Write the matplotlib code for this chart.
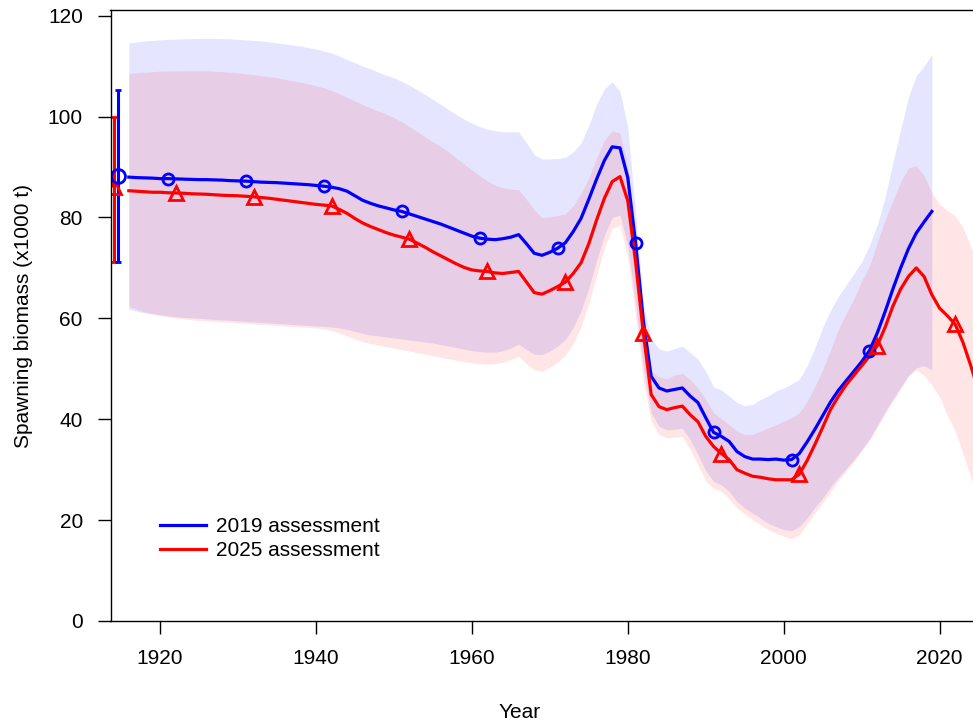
import numpy as np
import matplotlib
matplotlib.use("Agg")
import matplotlib.pyplot as plt

plt.rcParams['font.family'] = ['Liberation Sans', 'DejaVu Sans']

# ---------------- data ----------------
years_2019 = list(range(1916, 2020))
years_2025 = list(range(1916, 2026))

ssb_2019 = [88.0, 87.9, 87.85, 87.8, 87.7, 87.7, 87.65, 87.6, 87.55, 87.5,
            87.5, 87.45, 87.4, 87.3, 87.25, 87.2, 87.1, 87.0, 86.95, 86.9,
            86.8, 86.7, 86.6, 86.5, 86.35, 86.2, 86.0, 85.7, 85.2, 84.3,
            83.4, 82.8, 82.3, 81.9, 81.5, 81.2, 80.7, 80.2, 79.7, 79.2,
            78.7, 78.1, 77.5, 76.9, 76.3, 75.9, 75.7, 75.6, 75.8, 76.1,
            76.6, 74.8, 72.9, 72.5, 73.1, 73.9, 75.0, 77.2, 79.8, 83.6,
            87.6, 91.3, 94.0, 93.8, 87.9, 75.0, 59.5, 48.5, 46.2, 45.6,
            45.9, 46.2, 44.6, 43.3, 40.3, 37.4, 36.6, 35.6, 33.6, 32.6,
            32.1, 32.1, 32.0, 32.1, 31.9, 32.0, 33.2, 35.5, 38.0, 40.7,
            43.4, 45.7, 47.6, 49.5, 51.4, 53.6, 57.1, 61.3, 65.8, 70.0,
            73.8, 76.9, 79.1, 81.2]

hi_2019 = [114.6, 114.8, 115.0, 115.1, 115.2, 115.3, 115.35, 115.4, 115.45, 115.5,
           115.5, 115.5, 115.45, 115.4, 115.3, 115.2, 115.1, 115.0, 114.8, 114.6,
           114.4, 114.2, 114.0, 113.7, 113.4, 113.0, 112.6, 112.0, 111.3, 110.7,
           110.0, 109.5, 108.8, 108.2, 107.7, 107.0, 106.2, 105.3, 104.4, 103.4,
           102.4, 101.4, 100.4, 99.5, 98.7, 98.0, 97.5, 97.2, 97.0, 97.0,
           97.0, 94.8, 92.5, 91.6, 91.6, 91.7, 91.9, 93.0, 94.8, 98.2,
           102.5, 105.5, 106.9, 105.0, 97.9, 81.0, 62.8, 55.9, 54.0, 53.5,
           54.0, 54.5, 53.2, 51.9, 49.5, 46.4, 45.8, 44.6, 43.3, 42.7,
           42.9, 43.9, 44.6, 45.6, 46.2, 47.0, 47.9, 50.6, 54.2, 58.2,
           61.6, 64.3, 66.6, 68.9, 71.2, 74.5, 78.5, 84.0, 90.9, 97.4,
           103.9, 108.1, 110.0, 112.3]

lo_2019 = [61.8, 61.4, 61.1, 60.9, 60.7, 60.5, 60.3, 60.2, 60.1, 60.0,
           59.9, 59.8, 59.7, 59.6, 59.5, 59.4, 59.3, 59.2, 59.1, 59.0,
           58.9, 58.8, 58.7, 58.6, 58.5, 58.4, 58.3, 58.1, 57.8, 57.4,
           57.0, 56.7, 56.5, 56.3, 56.1, 55.9, 55.7, 55.5, 55.3, 55.1,
           54.8, 54.5, 54.2, 53.9, 53.6, 53.4, 53.3, 53.3, 53.6, 54.1,
           54.9, 53.8, 52.9, 52.8, 53.5, 54.5, 55.8, 58.2, 61.5, 66.0,
           71.5, 76.5, 80.0, 80.5, 74.5, 63.0, 50.0, 41.3, 38.6, 37.9,
           38.0, 38.2, 36.0, 33.0, 29.8, 27.7, 27.0, 25.7, 23.7, 22.4,
           21.4, 20.4, 19.4, 18.7, 18.1, 17.9, 18.7, 20.4, 22.5, 24.4,
           26.5, 28.5, 30.2, 32.0, 34.0, 36.1, 38.8, 41.5, 44.0, 46.4,
           48.7, 50.2, 50.6, 49.8]

ssb_2025 = [85.3, 85.2, 85.1, 85.0, 85.0, 84.9, 84.85, 84.8, 84.7, 84.65,
            84.6, 84.5, 84.4, 84.35, 84.3, 84.2, 84.1, 83.95, 83.8, 83.6,
            83.4, 83.2, 83.0, 82.8, 82.6, 82.45, 82.3, 81.6, 80.8, 79.8,
            78.9, 78.2, 77.6, 77.0, 76.5, 76.1, 75.7, 74.9, 74.1, 73.2,
            72.4, 71.6, 70.8, 70.1, 69.6, 69.4, 69.3, 69.0, 68.9, 69.1,
            69.3, 67.2, 65.1, 64.8, 65.5, 66.3, 67.2, 68.9, 71.0, 74.8,
            79.5, 83.8, 87.1, 88.1, 83.3, 71.2, 57.0, 44.9, 42.5, 41.9,
            42.3, 42.6, 40.9, 39.5, 36.6, 34.6, 33.2, 32.0, 30.0, 29.3,
            28.7, 28.5, 28.2, 28.0, 28.0, 28.0, 29.1, 31.8, 35.0, 38.4,
            41.9, 44.5, 46.8, 48.7, 50.6, 52.5, 54.6, 58.2, 62.4, 65.8,
            68.3, 70.0, 68.3, 64.7, 62.0, 60.5, 58.8, 55.2, 50.6, 45.5]

hi_2025 = [108.5, 108.7, 108.8, 108.9, 109.0, 109.0, 109.05, 109.1, 109.1, 109.1,
           109.1, 109.0, 108.9, 108.8, 108.7, 108.5, 108.3, 108.1, 107.9, 107.7,
           107.4, 107.1, 106.8, 106.5, 106.1, 105.7, 105.2, 104.5, 103.8, 103.1,
           102.4, 101.7, 101.1, 100.5, 99.8, 99.0, 98.0, 97.0, 96.0, 95.0,
           94.1, 93.0, 91.8, 90.6, 89.4, 88.3, 87.2, 86.4, 85.9, 85.6,
           85.5, 83.6, 81.5, 80.0, 80.1, 80.4, 80.7, 82.3, 84.8, 87.8,
           91.8, 95.3, 97.2, 96.7, 90.2, 75.7, 56.7, 49.5, 48.4, 48.0,
           48.8, 49.1, 47.9, 46.2, 43.9, 41.3, 40.1, 38.9, 37.6, 37.0,
           37.0, 37.6, 38.3, 38.9, 39.6, 40.3, 41.3, 43.5, 46.5, 49.8,
           53.7, 57.8, 60.9, 63.9, 67.4, 70.4, 75.0, 79.5, 83.3, 87.1,
           89.8, 90.3, 88.3, 84.9, 82.6, 81.4, 80.3, 78.0, 74.2, 70.0]

lo_2025 = [62.4, 61.8, 61.3, 60.9, 60.6, 60.3, 60.1, 59.9, 59.7, 59.6,
           59.5, 59.4, 59.3, 59.2, 59.1, 59.0, 58.9, 58.8, 58.7, 58.6,
           58.5, 58.4, 58.3, 58.2, 58.1, 57.9, 57.6, 57.1, 56.5, 55.9,
           55.4, 55.0, 54.7, 54.4, 54.1, 53.8, 53.5, 53.2, 52.9, 52.6,
           52.3, 52.0, 51.7, 51.4, 51.2, 51.0, 50.9, 51.0, 51.3, 51.8,
           52.5, 51.0, 49.8, 49.5, 50.3, 51.3, 52.7, 55.0, 58.3, 63.0,
           68.5, 74.0, 77.8, 78.5, 72.0, 60.5, 47.5, 39.6, 37.0, 36.3,
           36.4, 36.6, 34.0, 31.0, 27.7, 26.3, 25.7, 24.2, 22.4, 21.2,
           20.1, 19.1, 18.1, 17.4, 16.8, 16.3, 17.1, 19.2, 21.5, 23.4,
           25.6, 27.8, 29.7, 31.6, 33.7, 35.8, 38.4, 41.1, 43.6, 46.0,
           48.5, 49.8, 48.7, 46.8, 44.5, 40.7, 37.7, 33.1, 28.5, 24.0]

marker_years_2019 = [1921, 1931, 1941, 1951, 1961, 1971, 1981, 1991, 2001, 2011]
marker_years_2025 = [1922, 1932, 1942, 1952, 1962, 1972, 1982, 1992, 2002, 2012, 2022]

# unfished (initial) biomass with intervals
b0_x = [1914.6, 1914.05]
b0_val = [88.2, 86.0]
b0_lo = [71.1, 71.2]
b0_hi = [105.2, 100.0]

labels = ["2019 assessment", "2025 assessment"]
blue = "#0000FF"
red = "#FF0000"

# ---------------- figure ----------------
W, H = 973, 726
fig = plt.figure(figsize=(W / 100, H / 100), dpi=100)
ax_left, ax_bottom, ax_top = 110.5, 621, 10
ax = fig.add_axes([ax_left / W, (H - ax_bottom) / H, 1 - ax_left / W, (ax_bottom - ax_top) / H])
ax_w = W - ax_left
ax_h = ax_bottom - ax_top

ax.fill_between(years_2019, lo_2019, hi_2019, color=blue, alpha=0.1, linewidth=0)
ax.fill_between(years_2025, lo_2025, hi_2025, color=red, alpha=0.1, linewidth=0)

l1, = ax.plot(years_2019, ssb_2019, color=blue, lw=2.3, label=labels[0])
l2, = ax.plot(years_2025, ssb_2025, color=red, lw=2.3, label=labels[1])

idx1 = [years_2019.index(y) for y in marker_years_2019]
idx2 = [years_2025.index(y) for y in marker_years_2025]
ax.plot([years_2019[i] for i in idx1], [ssb_2019[i] for i in idx1], ls='none',
        marker='o', ms=8, mfc='none', mec=blue, mew=2)
ax.plot([years_2025[i] for i in idx2], [ssb_2025[i] for i in idx2], ls='none',
        marker='^', ms=9.5, mfc='none', mec=red, mew=2)

# initial values with error bars
ax.errorbar([b0_x[1]], [b0_val[1]],
            yerr=[[b0_val[1] - b0_lo[1]], [b0_hi[1] - b0_val[1]]],
            fmt='^', ms=9.5, mfc='none', mec=red, mew=2, color=red,
            elinewidth=2.2, capsize=2.5, capthick=2)
ax.errorbar([b0_x[0]], [b0_val[0]],
            yerr=[[b0_val[0] - b0_lo[0]], [b0_hi[0] - b0_val[0]]],
            fmt='o', ms=10, mfc='none', mec=blue, mew=2, color=blue,
            elinewidth=2.2, capsize=2.5, capthick=2)

ax.set_xlim(1913.65, 2024.28)
ax.set_ylim(0, 121.13)
ax.set_xticks([1920, 1940, 1960, 1980, 2000, 2020])
ax.set_yticks([0, 20, 40, 60, 80, 100, 120])

ax.spines['right'].set_visible(False)
for s in ['left', 'bottom', 'top']:
    ax.spines[s].set_linewidth(1.0)
    ax.spines[s].set_color('black')

ax.tick_params(axis='both', length=9.4, width=1.0, labelsize=15, pad=10.5, color='black')

ax.set_xlabel("Year", fontsize=15)
ax.set_ylabel("Spawning biomass (x1000 t)", fontsize=15)
ax.xaxis.set_label_coords((520 - ax_left) / ax_w, (ax_bottom - 703) / ax_h)
ax.yaxis.set_label_coords((33 - ax_left) / ax_w, 0.5)

leg = ax.legend(handles=[l1, l2], loc='upper left',
                bbox_to_anchor=((152 - ax_left) / ax_w, (ax_bottom - 509) / ax_h),
                frameon=False, fontsize=15, handlelength=2.2,
                handletextpad=0.45, labelspacing=0.22, borderaxespad=0)

fig.savefig("out.png", dpi=100)
